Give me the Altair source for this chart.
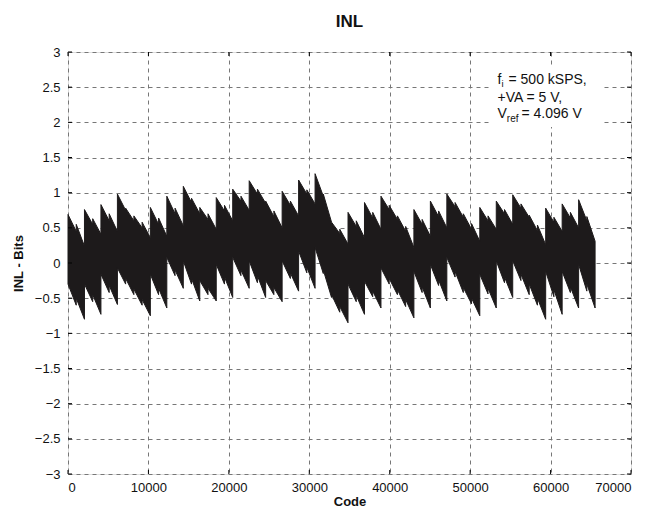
import altair as alt
import pandas as pd

# Code at the start / middle / end of each 2048-code segment
codes_start = [0, 2048, 4096, 6144, 8192, 10240, 12288, 14336, 16384, 18432, 20480,
               22528, 24576, 26624, 28672, 30720, 32768, 34816, 36864, 38912, 40960,
               43008, 45056, 47104, 49152, 51200, 53248, 55296, 57344, 59392, 61440, 63488]
codes_mid = [1024, 3072, 5120, 7168, 9216, 11264, 13312, 15360, 17408, 19456, 21504,
             23552, 25600, 27648, 29696, 31744, 33792, 35840, 37888, 39936, 41984,
             44032, 46080, 48128, 50176, 52224, 54272, 56320, 58368, 60416, 62464, 64512]
codes_end = [2047, 4095, 6143, 8191, 10239, 12287, 14335, 16383, 18431, 20479, 22527,
             24575, 26623, 28671, 30719, 32767, 34815, 36863, 38911, 40959, 43007,
             45055, 47103, 49151, 51199, 53247, 55295, 57343, 59391, 61439, 63487, 65535]

# Upper envelope of INL (bits): segment start, just before mid, just after mid, end
upper_start = [0.69, 0.76, 0.83, 0.98, 0.67, 0.79, 0.95, 1.09, 0.79, 0.93, 1.05,
               1.17, 0.88, 1.02, 1.18, 1.27, 0.58, 0.72, 0.86, 0.95, 0.67,
               0.76, 0.88, 0.98, 0.70, 0.79, 0.88, 0.97, 0.68, 0.78, 0.84, 0.90]
upper_pre = [0.45, 0.55, 0.60, 0.75, 0.50, 0.55, 0.70, 0.86, 0.62, 0.74, 0.88,
             0.98, 0.66, 0.82, 0.98, 0.95, 0.42, 0.52, 0.64, 0.76, 0.45,
             0.55, 0.66, 0.80, 0.48, 0.60, 0.70, 0.78, 0.46, 0.58, 0.64, 0.60]
upper_post = [0.55, 0.63, 0.70, 0.78, 0.58, 0.64, 0.78, 0.92, 0.70, 0.82, 0.95,
              1.05, 0.74, 0.88, 1.04, 0.98, 0.48, 0.60, 0.72, 0.82, 0.52,
              0.62, 0.74, 0.86, 0.56, 0.67, 0.76, 0.84, 0.54, 0.65, 0.72, 0.66]
upper_end = [0.24, 0.41, 0.45, 0.60, 0.36, 0.38, 0.53, 0.70, 0.48, 0.60, 0.75,
             0.85, 0.50, 0.67, 0.84, 0.58, 0.27, 0.36, 0.48, 0.62, 0.22,
             0.38, 0.50, 0.65, 0.31, 0.48, 0.55, 0.65, 0.26, 0.45, 0.50, 0.31]

# Lower envelope of INL (bits): segment start, just before mid, just after mid, end
lower_start = [-0.30, -0.30, -0.16, -0.07, -0.37, -0.16, 0.08, 0.03, -0.25, -0.02, 0.08,
               0.03, -0.25, 0.03, 0.17, 0.22, -0.45, -0.30, -0.26, -0.07, -0.38,
               -0.12, -0.02, 0.08, -0.35, -0.16, 0.03, 0.03, -0.30, -0.12, -0.12, -0.02]
lower_pre = [-0.60, -0.55, -0.42, -0.30, -0.60, -0.45, -0.18, -0.30, -0.45, -0.30, -0.18,
             -0.28, -0.45, -0.22, -0.14, -0.15, -0.70, -0.55, -0.48, -0.30, -0.62,
             -0.42, -0.32, -0.20, -0.58, -0.44, -0.28, -0.25, -0.60, -0.48, -0.42, -0.40]
lower_post = [-0.50, -0.45, -0.32, -0.22, -0.52, -0.36, -0.10, -0.22, -0.36, -0.20, -0.10,
              -0.18, -0.35, -0.14, -0.06, -0.10, -0.62, -0.46, -0.40, -0.22, -0.52,
              -0.34, -0.24, -0.12, -0.50, -0.36, -0.20, -0.16, -0.50, -0.38, -0.34, -0.30]
lower_end = [-0.80, -0.73, -0.59, -0.45, -0.75, -0.64, -0.36, -0.54, -0.54, -0.49, -0.36,
             -0.49, -0.55, -0.40, -0.36, -0.49, -0.85, -0.73, -0.64, -0.45, -0.78,
             -0.64, -0.54, -0.42, -0.75, -0.64, -0.49, -0.45, -0.80, -0.73, -0.64, -0.64]

x_ticks = [0, 10000, 20000, 30000, 40000, 50000, 60000, 70000]
y_ticks = [-3, -2.5, -2, -1.5, -1, -0.5, 0, 0.5, 1, 1.5, 2, 2.5, 3]

rows = []
for k in range(len(codes_start)):
    rows.append({"code": codes_start[k], "hi": upper_start[k], "lo": lower_start[k]})
    rows.append({"code": codes_mid[k] - 1, "hi": upper_pre[k], "lo": lower_pre[k]})
    rows.append({"code": codes_mid[k], "hi": upper_post[k], "lo": lower_post[k]})
    rows.append({"code": codes_end[k], "hi": upper_end[k], "lo": lower_end[k]})
df = pd.DataFrame(rows)

FONT = "Liberation Sans"
W, H = 563, 422
INK = "#111111"
TL = 4  # inward tick length

xscale = alt.Scale(domain=[0, 70000], nice=False, zero=False)
yscale = alt.Scale(domain=[-3, 3], nice=False, zero=False)

x_axis = alt.Axis(values=x_ticks, title="Code", format="d",
                  grid=True, gridDash=[4, 4], gridColor="#777777", gridWidth=1,
                  ticks=False, domain=False, labelPadding=7,
                  labelFont=FONT, labelFontSize=13, labelColor=INK,
                  titleFont=FONT, titleFontSize=13, titleFontWeight="bold",
                  titleColor=INK, titleY=31, titleBaseline="alphabetic")
y_axis = alt.Axis(values=y_ticks, title="INL - Bits", format="~g",
                  grid=True, gridDash=[4, 4], gridColor="#777777", gridWidth=1,
                  ticks=False, domain=False, labelPadding=8,
                  labelFont=FONT, labelFontSize=13, labelColor=INK,
                  titleFont=FONT, titleFontSize=13, titleFontWeight="bold",
                  titleColor=INK, titleX=-50, titleY=H / 2,
                  titleAngle=270, titleAlign="center", titleBaseline="middle")

band = alt.Chart(df).mark_area(color="#1d1a1b", interpolate="linear",
                                stroke="#1d1a1b", strokeWidth=1).encode(
    x=alt.X("code:Q", scale=xscale, axis=x_axis),
    y=alt.Y("hi:Q", scale=yscale, axis=y_axis),
    y2="lo:Q",
)

# inward tick marks on all four sides of the frame
xt = pd.DataFrame({"v": x_ticks})
yt = pd.DataFrame({"v": y_ticks})
tick_bottom = alt.Chart(xt).mark_rule(color="black", strokeWidth=1).encode(
    x=alt.X("v:Q", scale=xscale, axis=x_axis), y=alt.value(H), y2=alt.value(H - TL))
tick_top = alt.Chart(xt).mark_rule(color="black", strokeWidth=1).encode(
    x=alt.X("v:Q", scale=xscale, axis=x_axis), y=alt.value(0), y2=alt.value(TL))
tick_left = alt.Chart(yt).mark_rule(color="black", strokeWidth=1).encode(
    y=alt.Y("v:Q", scale=yscale, axis=y_axis), x=alt.value(0), x2=alt.value(TL))
tick_right = alt.Chart(yt).mark_rule(color="black", strokeWidth=1).encode(
    y=alt.Y("v:Q", scale=yscale, axis=y_axis), x=alt.value(W), x2=alt.value(W - TL))

# white box behind the annotation (hides the grid there, as in the original)
box = alt.Chart(pd.DataFrame({"a": [0]})).mark_rect(color="white").encode(
    x=alt.value(424), x2=alt.value(534), y=alt.value(16), y2=alt.value(75))

# annotation text (pixel offsets inside plot area)
ann_text = ["f", "i", "= 500 kSPS,", "+VA = 5 V,", "V", "ref", "= 4.096 V"]
ann_x = [429.5, 433.6, 440.5, 429.5, 429.5, 438.8, 453.5]
ann_y = [32, 35, 32, 50, 66, 69.5, 66]
ann_size = [14, 9.5, 14, 14, 14, 10, 14]

anns = []
for t, x, y, s in zip(ann_text, ann_x, ann_y, ann_size):
    anns.append(alt.Chart(pd.DataFrame({"t": [t]})).mark_text(
        align="left", baseline="alphabetic", font=FONT, fontSize=s,
        color=INK).encode(text="t:N", x=alt.value(x), y=alt.value(y)))

chart = alt.layer(band, tick_bottom, tick_top, tick_left, tick_right, box, *anns).properties(
    width=W, height=H,
    title=alt.TitleParams("INL", font=FONT, fontSize=17, fontWeight="bold",
                          color=INK, anchor="middle", offset=15),
    autosize=alt.AutoSizeParams(type="none"),
    padding={"left": 60, "top": 44, "right": 12, "bottom": 34},
).configure_view(stroke="#000000", strokeWidth=1.6).configure(background="white")

chart.save("out.html", embed_options={"renderer": "svg", "actions": False})
